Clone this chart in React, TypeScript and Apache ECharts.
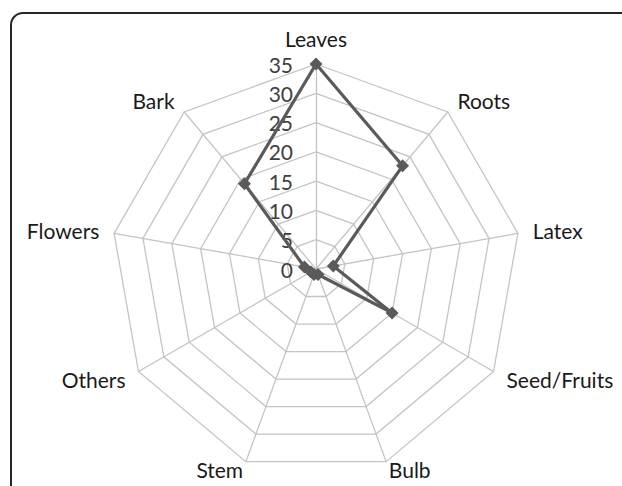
import React, { useEffect, useRef } from "react";
import * as echarts from "echarts";

// Categories in clockwise order starting from the top
const categories = ["Leaves", "Roots", "Latex", "Seed/Fruits", "Bulb", "Stem", "Others", "Flowers", "Bark"];
const values = [35, 23, 3, 15, 1, 1, 1, 2, 19];
const axisMax = 35;
const tickStep = 5;

export default function App() {
  const ref = useRef<HTMLDivElement>(null);
  useEffect(() => {
    if (!ref.current) return;
    const chart = echarts.init(ref.current, null, { renderer: "svg" });
    // ECharts lays radar indicators out counter-clockwise; reverse all but the first
    const order = [0, ...categories.map((_, i) => i).slice(1).reverse()];
    chart.setOption({
      animation: false,
      backgroundColor: "#ffffff",
      textStyle: { fontFamily: "Lato" },
      graphic: [
        {
          type: "rect",
          shape: { x: 11, y: 13, width: 700, height: 600, r: 12 },
          style: { fill: "none", stroke: "#262626", lineWidth: 2 },
          silent: true,
        },
      ],
      radar: {
        center: [316, 269],
        radius: 205,
        startAngle: 90,
        splitNumber: axisMax / tickStep,
        shape: "polygon",
        nameGap: 15,
        axisName: { color: "#1a1a1a", fontSize: 21, fontFamily: "Lato" },
        axisLine: { lineStyle: { color: "#c4c4c4", width: 1.3 } },
        splitLine: { lineStyle: { color: "#c4c4c4", width: 1.3 } },
        splitArea: { show: false },
        axisTick: { show: false },
        axisLabel: { show: false, color: "#404040", fontSize: 21, fontFamily: "Lato", margin: 23 },
        indicator: order.map((k, i) => {
          const ind: any = { name: categories[k], min: 0, max: axisMax };
          if (i === 0) ind.axisLabel = { show: true };
          if (categories[k] === "Stem" || categories[k] === "Bulb") ind.nameGap = 8;
          return ind;
        }),
      },
      series: [
        {
          type: "radar",
          symbol: "diamond",
          symbolSize: 13,
          lineStyle: { color: "#5a5a5a", width: 3.2 },
          itemStyle: { color: "#5a5a5a" },
          data: [{ value: order.map((k) => values[k]) }],
        },
      ],
    });
    return () => chart.dispose();
  }, []);
  return (
    <div
      ref={ref}
      style={{ position: "fixed", left: 0, top: 0, width: 622, height: 486 }}
    />
  );
}
